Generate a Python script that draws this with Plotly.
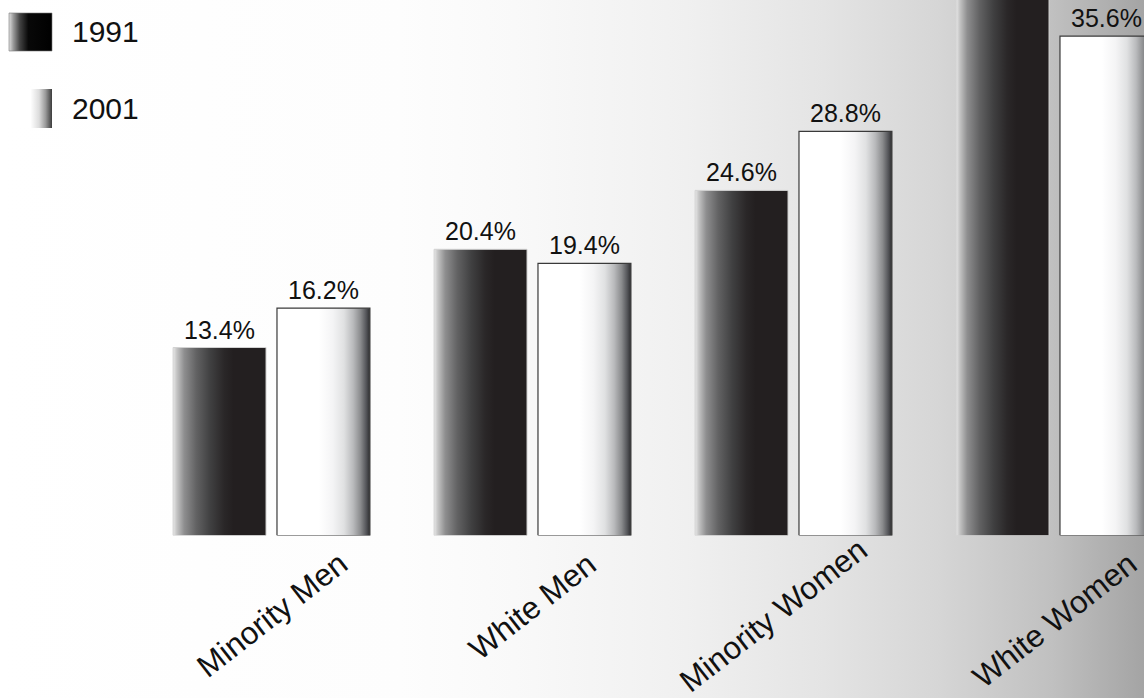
import plotly.graph_objects as go

# ---- data -------------------------------------------------------------
categories = ["Minority Men", "White Men", "Minority Women", "White Women"]
years = ["1991", "2001"]
share_1991 = [13.4, 20.4, 24.6, 40.8]
share_2001 = [16.2, 19.4, 28.8, 35.6]

# ---- styling ----------------------------------------------------------
W, H = 1144, 698
FONT = "Liberation Sans, Arial, Helvetica, sans-serif"
Y_TOP = 38.17          # value shown at the top edge of the chart area
BAR_W = 0.356          # bar width in category units
HALF_GAP = 0.021       # half of the gap between the two bars of a group
# the long third label sits a little up and to the left
LABEL_NUDGE = {"Minority Women": (-20, 14)}

dark_scale = [[0, "#e8e8e8"], [0.04, "#c4c4c4"], [0.12, "#8e8e8f"],
              [0.25, "#626263"], [0.4, "#404041"], [0.55, "#2a2728"],
              [0.65, "#231f20"], [1, "#231f20"]]
light_scale = [[0, "#ffffff"], [0.45, "#ffffff"], [0.6, "#f4f4f5"],
               [0.72, "#e0e1e2"], [0.82, "#b9babc"], [0.9, "#8a8b8d"],
               [0.96, "#55565a"], [1, "#2e2e30"]]
bg_scale = [[0, "#ffffff"], [0.35, "#fdfdfd"], [0.45, "#f9f9f9"],
            [0.6, "#f0f0f0"], [0.72, "#e4e4e4"], [0.82, "#d6d6d6"],
            [0.92, "#c0c0c0"], [1, "#a4a4a4"]]
key_dark = [[0, "#e0e0e0"], [0.1, "#9a9a9a"], [0.25, "#444444"],
            [0.45, "#080808"], [1, "#000000"]]
key_light = [[0, "#ffffff"], [0.5, "#ffffff"], [0.7, "#dcdcdc"],
             [0.85, "#9a9a9a"], [1, "#3c3c3c"]]

fig = go.Figure()


def rect(x0, x1, y0, y1, scale, line_color, line_w, xa="x", ya="y"):
    fig.add_trace(go.Scatter(
        x=[x0, x0, x1, x1, x0], y=[y0, y1, y1, y0, y0],
        mode="lines", fill="toself",
        fillgradient=dict(type="horizontal", colorscale=scale),
        line=dict(color=line_color, width=line_w),
        xaxis=xa, yaxis=ya, hoverinfo="skip", showlegend=False))


# page background (pixel canvas on the first axis pair)
rect(0, W, 0, H, bg_scale, "rgba(0,0,0,0)", 0)

# key swatches
rect(9, 52, 13, 51, key_dark, "rgba(120,120,120,0.6)", 1)
rect(9, 52, 89, 128, key_light, "rgba(0,0,0,0)", 0)

# bars, drawn as gradient-filled rectangles on the value axes
for i, (v91, v01) in enumerate(zip(share_1991, share_2001)):
    rect(i - HALF_GAP - BAR_W, i - HALF_GAP, 0, v91,
         dark_scale, "#d2d2d2", 1, "x2", "y2")
    rect(i + HALF_GAP, i + HALF_GAP + BAR_W, 0, v01,
         light_scale, "#3a3a3a", 1.2, "x2", "y2")

annotations = []
# value labels
for i, (v91, v01) in enumerate(zip(share_1991, share_2001)):
    for xc, v in ((i - HALF_GAP - BAR_W / 2, v91),
                  (i + HALF_GAP + BAR_W / 2, v01)):
        if v <= Y_TOP:
            annotations.append(dict(
                x=xc, y=v, xref="x2", yref="y2", text=f"{v:.1f}%",
                showarrow=False, xanchor="center", yanchor="bottom",
                yshift=2, font=dict(family=FONT, size=25, color="#111111")))

# category labels
for i, name in enumerate(categories):
    dx, dy = LABEL_NUDGE.get(name, (0, 0))
    annotations.append(dict(
        x=i, y=0, xref="x2", yref="y2", text=name, showarrow=False,
        textangle=-38, xanchor="center", yanchor="top",
        xshift=dx, yshift=-7 + dy,
        font=dict(family=FONT, size=31.5, color="#111111")))

# key labels
for yc, label in ((31, years[0]), (108, years[1])):
    annotations.append(dict(
        x=70, y=yc, xref="x", yref="y", text=label, showarrow=False,
        xanchor="left", yanchor="middle",
        font=dict(family=FONT, size=30, color="#111111")))

hidden = dict(visible=False, showgrid=False, zeroline=False,
              fixedrange=True)
base_px = 535.5
fig.update_layout(
    width=W, height=H,
    margin=dict(l=0, r=0, t=0, b=0, pad=0),
    paper_bgcolor="#ffffff", plot_bgcolor="rgba(0,0,0,0)",
    showlegend=False,
    xaxis=dict(range=[0, W], domain=[0, 1], **hidden),
    yaxis=dict(range=[H, 0], domain=[0, 1], **hidden),
    xaxis2=dict(range=[-271.5 / 261, (W - 271.5) / 261], domain=[0, 1],
                anchor="y2", **hidden),
    yaxis2=dict(range=[0, Y_TOP], domain=[(H - base_px) / H, 1],
                anchor="x2", **hidden),
    annotations=annotations,
)

fig.write_html("out.html")
